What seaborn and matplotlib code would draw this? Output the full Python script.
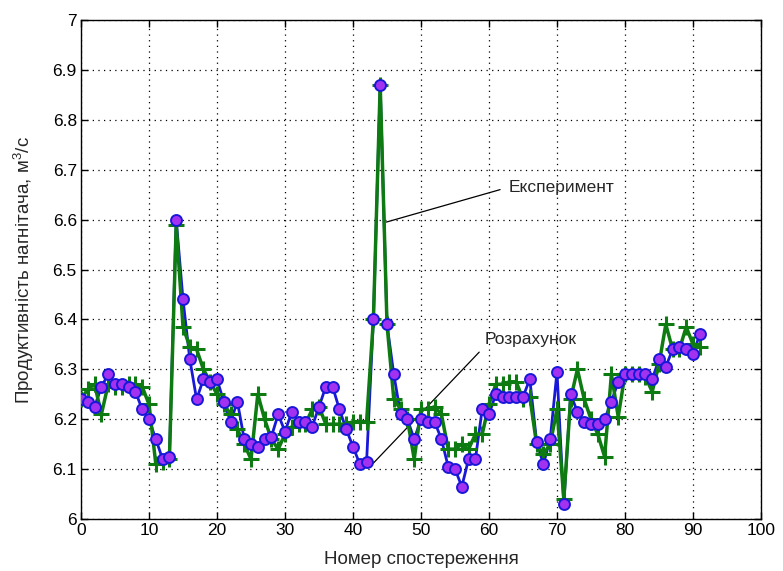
import numpy as np
import pandas as pd
import matplotlib
matplotlib.use("Agg")
import matplotlib.pyplot as plt
import seaborn as sns

# номер спостереження
nomer = np.arange(0, 92)

# розрахунок (синя лінія, фіолетові кружки)
rozrakhunok = [
    6.24, 6.235, 6.225, 6.265, 6.29, 6.27, 6.27, 6.265, 6.255, 6.22, 6.20,
    6.16, 6.12, 6.125, 6.60, 6.44, 6.32, 6.24, 6.28, 6.275, 6.28,
    6.235, 6.195, 6.235, 6.16, 6.15, 6.145, 6.16, 6.165, 6.21, 6.175,
    6.215, 6.195, 6.195, 6.185, 6.225, 6.265, 6.265, 6.22, 6.18, 6.145,
    6.11, 6.115, 6.40, 6.87, 6.39, 6.29, 6.21, 6.20, 6.16, 6.20,
    6.195, 6.195, 6.16, 6.105, 6.10, 6.065, 6.12, 6.12, 6.22, 6.21,
    6.25, 6.245, 6.245, 6.245, 6.245, 6.28, 6.155, 6.11, 6.16, 6.295,
    6.03, 6.25, 6.215, 6.195, 6.19, 6.19, 6.20, 6.235, 6.275, 6.29,
    6.29, 6.29, 6.29, 6.28, 6.32, 6.305, 6.34, 6.345, 6.34, 6.33, 6.37,
]

# експеримент (зелена лінія, хрестики)
eksperyment = [
    6.24, 6.26, 6.27, 6.21, 6.27, 6.265, 6.265, 6.27, 6.27, 6.265, 6.23,
    6.11, 6.115, 6.12, 6.59, 6.385, 6.345, 6.34, 6.30, 6.275, 6.25,
    6.23, 6.21, 6.18, 6.15, 6.12, 6.25, 6.20, 6.16, 6.14, 6.17,
    6.185, 6.19, 6.19, 6.22, 6.225, 6.19, 6.19, 6.19, 6.19, 6.195,
    6.195, 6.195, 6.40, 6.87, 6.39, 6.24, 6.22, 6.20, 6.12, 6.22,
    6.22, 6.225, 6.21, 6.14, 6.14, 6.15, 6.14, 6.17, 6.17, 6.23,
    6.27, 6.27, 6.275, 6.275, 6.24, 6.245, 6.15, 6.13, 6.15, 6.22,
    6.04, 6.24, 6.30, 6.24, 6.20, 6.17, 6.125, 6.29, 6.205, 6.29,
    6.29, 6.29, 6.285, 6.255, 6.31, 6.39, 6.34, 6.34, 6.385, 6.35, 6.345,
]

x_ticks = list(range(0, 101, 10))
y_ticks = [6.0, 6.1, 6.2, 6.3, 6.4, 6.5, 6.6, 6.7, 6.8, 6.9, 7.0]
y_tick_labels = ["6", "6.1", "6.2", "6.3", "6.4", "6.5", "6.6", "6.7", "6.8", "6.9", "7"]

# підписи-виноски: (точка на лінії, позиція тексту)
exp_point, exp_text = (44.9, 6.595), (62.9, 6.665)
calc_point, calc_text = (43.0, 6.112), (59.3, 6.345)

df = pd.DataFrame({"nomer": nomer, "rozrakhunok": rozrakhunok, "eksperyment": eksperyment})

sns.set_style("ticks")
plt.rcParams["font.family"] = ["Liberation Sans", "DejaVu Sans"]
plt.rcParams["mathtext.default"] = "regular"

fig = plt.figure(figsize=(7.83, 5.71), dpi=100)
ax = fig.add_axes([81 / 783, 1 - 519 / 571, 680 / 783, 499 / 571])

blue = "#1818d8"
purple = "#a232f0"
green = "#0e7a12"

sns.lineplot(data=df, x="nomer", y="rozrakhunok", ax=ax, color=blue, lw=2.0, zorder=3)
sns.lineplot(data=df, x="nomer", y="eksperyment", ax=ax, color=green, lw=2.5,
             marker="+", markersize=11, markeredgewidth=2.2, markeredgecolor=green, zorder=4)
sns.scatterplot(data=df, x="nomer", y="rozrakhunok", ax=ax, s=62, color=purple,
                edgecolor=blue, linewidth=1.4, zorder=5)

ax.set_xlim(0, 100)
ax.set_ylim(6, 7)
ax.set_xticks(x_ticks)
ax.set_yticks(y_ticks)
ax.set_yticklabels(y_tick_labels)
ax.grid(True, color="k", linestyle=(0, (1, 3.5)), lw=0.9)
ax.set_axisbelow(True)
ax.tick_params(direction="in", top=True, right=True, length=5, width=1,
               labelsize=12.5, colors="k", pad=3)
for s in ax.spines.values():
    s.set_color("k")
    s.set_linewidth(1.0)

ax.set_xlabel("Номер спостереження", fontsize=13.5, labelpad=9)
ax.set_ylabel("Продуктивність нагнітача, м$^3$/с", fontsize=13.5, labelpad=12)

ax.annotate("Експеримент", xy=exp_point, xytext=exp_text, fontsize=12.5,
            va="center", ha="left",
            arrowprops=dict(arrowstyle="-", color="k", lw=0.9, shrinkA=4, shrinkB=0,
                            relpos=(0, 0.5)))
ax.annotate("Розрахунок", xy=calc_point, xytext=calc_text, fontsize=12.5,
            va="bottom", ha="left",
            arrowprops=dict(arrowstyle="-", color="k", lw=0.9, shrinkA=2, shrinkB=0,
                            relpos=(0, 0)))

fig.savefig("out.png", dpi=100, facecolor="white")
